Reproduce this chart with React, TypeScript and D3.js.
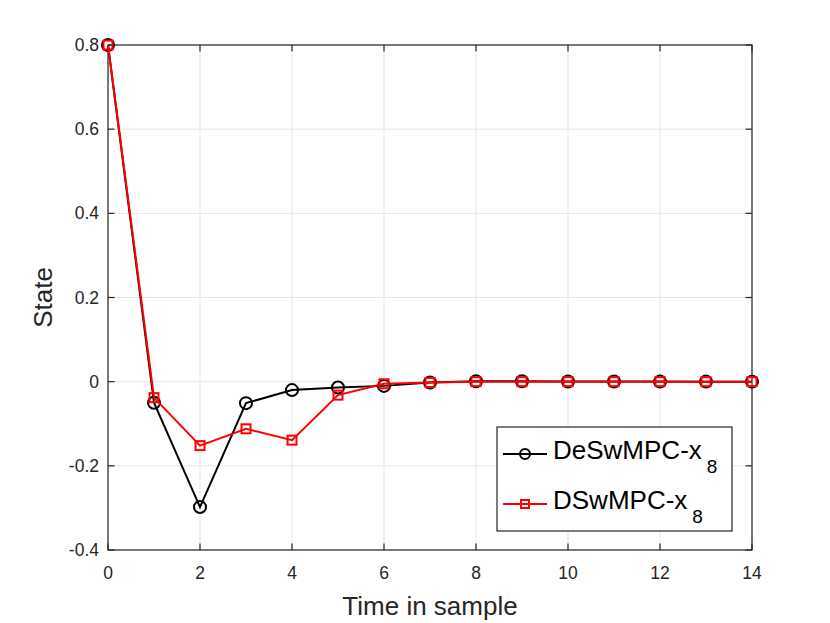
import { useEffect, useRef } from "react"
import * as d3 from "d3"

const steps = [0, 1, 2, 3, 4, 5, 6, 7, 8, 9, 10, 11, 12, 13, 14]
const deswmpc = [0.8, -0.05, -0.298, -0.051, -0.02, -0.014, -0.01, -0.002, 0.001, 0.001, 0.0005, 0.0003, 0.0002, 0.0001, 0]
const dswmpc = [0.8, -0.038, -0.152, -0.112, -0.139, -0.032, -0.005, -0.002, 0, 0, 0, 0, 0, 0, 0]
const xTicks = [0, 2, 4, 6, 8, 10, 12, 14]
const yTicks = [-0.4, -0.2, 0, 0.2, 0.4, 0.6, 0.8]
const legendLabels = ["DeSwMPC-x", "DSwMPC-x"]

const FONT = "'Liberation Sans', Arial, Helvetica, sans-serif"
const AXIS = "#262626"

export default function App() {
  const ref = useRef<SVGSVGElement>(null)

  useEffect(() => {
    const svgEl = ref.current
    if (!svgEl) return
    const svg = d3.select(svgEl)
    svg.selectAll("*").remove()

    const left = 108, right = 752, top = 45, bottom = 550
    const x = d3.scaleLinear().domain([0, 14]).range([left, right])
    const y = d3.scaleLinear().domain([-0.4, 0.8]).range([bottom, top])

    // grid
    const grid = svg.append("g").attr("stroke", "#e5e5e5").attr("stroke-width", 1)
    xTicks.forEach((t) => {
      grid.append("line").attr("x1", x(t)).attr("x2", x(t)).attr("y1", top).attr("y2", bottom)
    })
    yTicks.forEach((t) => {
      grid.append("line").attr("x1", left).attr("x2", right).attr("y1", y(t)).attr("y2", y(t))
    })

    // box + ticks
    const ax = svg.append("g").attr("stroke", AXIS).attr("stroke-width", 1.2).attr("fill", "none")
    ax.append("rect").attr("x", left).attr("y", top).attr("width", right - left).attr("height", bottom - top)
    const tl = 6.5
    xTicks.forEach((t) => {
      ax.append("line").attr("x1", x(t)).attr("x2", x(t)).attr("y1", bottom).attr("y2", bottom - tl)
      ax.append("line").attr("x1", x(t)).attr("x2", x(t)).attr("y1", top).attr("y2", top + tl)
    })
    yTicks.forEach((t) => {
      ax.append("line").attr("x1", left).attr("x2", left + tl).attr("y1", y(t)).attr("y2", y(t))
      ax.append("line").attr("x1", right).attr("x2", right - tl).attr("y1", y(t)).attr("y2", y(t))
    })

    const labels = svg.append("g").attr("font-family", FONT).attr("fill", AXIS)
    xTicks.forEach((t) => {
      labels.append("text").attr("x", x(t)).attr("y", bottom + 29).attr("text-anchor", "middle")
        .attr("font-size", 17.5).text(String(t))
    })
    yTicks.forEach((t) => {
      labels.append("text").attr("x", left - 9).attr("y", y(t) + 6).attr("text-anchor", "end")
        .attr("font-size", 17.5).text(t === 0 ? "0" : t.toFixed(1))
    })
    labels.append("text").attr("x", (left + right) / 2).attr("y", 615).attr("text-anchor", "middle")
      .attr("font-size", 26).text("Time in sample")
    labels.append("text").attr("transform", `translate(52,${(top + bottom) / 2}) rotate(-90)`)
      .attr("text-anchor", "middle").attr("font-size", 26).text("State")

    const line = d3.line<number>().x((_, i) => x(steps[i])).y((d) => y(d))

    // black series
    svg.append("path").datum(deswmpc).attr("d", line).attr("fill", "none")
      .attr("stroke", "#000").attr("stroke-width", 2)
    svg.append("g").selectAll("circle").data(deswmpc).enter().append("circle")
      .attr("cx", (_, i) => x(steps[i])).attr("cy", (d) => y(d)).attr("r", 6)
      .attr("fill", "none").attr("stroke", "#000").attr("stroke-width", 2)

    // red series
    svg.append("path").datum(dswmpc).attr("d", line).attr("fill", "none")
      .attr("stroke", "#ff0000").attr("stroke-width", 2)
    svg.append("g").selectAll("rect").data(dswmpc).enter().append("rect")
      .attr("x", (_, i) => x(steps[i]) - 4.5).attr("y", (d) => y(d) - 4.5)
      .attr("width", 9).attr("height", 9)
      .attr("fill", "none").attr("stroke", "#ff0000").attr("stroke-width", 2)

    // legend
    const lg = svg.append("g")
    lg.append("rect").attr("x", 497).attr("y", 427).attr("width", 235).attr("height", 104)
      .attr("fill", "#fff").attr("stroke", AXIS).attr("stroke-width", 1.2)
    const rows = [
      { y: 454, color: "#000", marker: "circle" },
      { y: 504, color: "#ff0000", marker: "square" },
    ]
    rows.forEach((r, i) => {
      lg.append("line").attr("x1", 503).attr("x2", 547).attr("y1", r.y).attr("y2", r.y)
        .attr("stroke", r.color).attr("stroke-width", 2)
      if (r.marker === "circle") {
        lg.append("circle").attr("cx", 525).attr("cy", r.y).attr("r", 5)
          .attr("fill", "none").attr("stroke", r.color).attr("stroke-width", 2)
      } else {
        lg.append("rect").attr("x", 521).attr("y", r.y - 4).attr("width", 8).attr("height", 8)
          .attr("fill", "none").attr("stroke", r.color).attr("stroke-width", 2)
      }
      const t = lg.append("text").attr("x", 553).attr("y", r.y + 5).attr("font-family", FONT)
        .attr("font-size", 26).attr("fill", "#000")
      t.append("tspan").text(legendLabels[i])
      t.append("tspan").attr("dx", 5).attr("dy", 14).attr("font-size", 19).text("8")
    })
  }, [])

  return (
    <svg ref={ref} width={830} height={623} style={{ position: "absolute", left: 0, top: 0, background: "#fff" }} />
  )
}
